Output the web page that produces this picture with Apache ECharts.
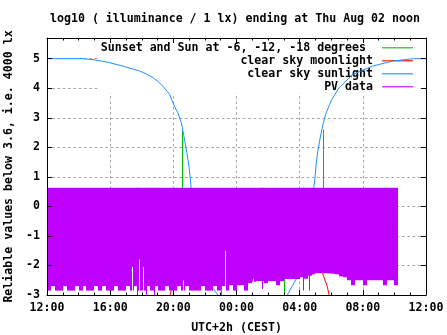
<!DOCTYPE html>
<html><head><meta charset="utf-8">
<script src="https://cdn.jsdelivr.net/npm/echarts@6/dist/echarts.min.js"></script>
<style>html,body{margin:0;padding:0;background:#fff}#c{width:447px;height:335px}</style>
</head><body><div id="c"></div>
<script>
// ---- data (x in hours after Wed 12:00 CEST) ----
const xTickLabels = ['12:00','16:00','20:00','00:00','04:00','08:00','12:00'];

const sunTime  = [0,2.28,3.0,3.76,4.81,5.87,6.3,6.71,7.05,7.34,7.6,7.77,7.97,8.15,8.29,8.51,8.67,8.86,8.99,9.08,9.15,9.3,9.7,10.1,10.5,10.83,11.3,12.5,14.2,14.8,15.25,15.78,16.2,16.6,16.9,16.97,17.05,17.15,17.3,17.47,17.68,17.9,18.04,18.5,19.37,20.63,21.9,23.2,24];
const sunValue = [5,5,4.96,4.89,4.75,4.58,4.48,4.36,4.22,4.07,3.9,3.79,3.51,3.3,3.17,2.83,2.38,1.81,1.36,0.91,0.5,-0.5,-1.5,-2.3,-2.77,-3.0,-3.6,-5,-4.4,-3.6,-2.97,-2.46,-1.3,-0.1,0.66,0.97,1.47,1.87,2.32,2.77,3.17,3.45,3.62,4.02,4.47,4.75,4.92,5.0,5.0];

const moonTime  = [7.7,7.79,7.88,8.3,9.0,10.0,12.0,14.0,16.0,17.0,17.3,17.45,17.6,17.75,17.85,17.95];
const moonValue = [-3.3,-3.0,-2.83,-2.1,-1.5,-1.0,-0.7,-0.8,-1.3,-1.8,-2.05,-2.26,-2.49,-2.72,-2.97,-3.3];

const sunsetTime  = [8.55,9.3,10.15,11.05,15.02,15.9,16.75,17.49];
const sunsetValue = [2.57,0.3,-1.2,-4,-4,-1.2,0.3,2.6];

const pvStart = 0, pvStep = 0.25, pvTop = 0.63;
const pvLow = [
 -2.85,-2.7,-2.85,-2.85,-2.7,-2.85,-2.85,-2.7,-2.85,-2.7,
 -2.85,-2.85,-2.7,-2.85,-2.7,-2.85,-2.85,-2.7,-2.85,-2.85,
 -2.7,-2.85,-2.7,-2.85,-2.85,-2.7,-2.85,-2.7,-2.85,-2.85,
 -2.7,-2.85,-2.85,-2.7,-2.85,-2.7,-2.85,-2.85,-2.85,-2.7,
 -2.85,-2.85,-2.7,-2.85,
 -2.7,-2.85,-2.67,-2.85,-2.67,-2.67,-2.85,-2.6,
 -2.55,-2.53,-2.53,-2.6,-2.53,-2.53,-2.67,-2.53,
 -2.46,-2.46,-2.46,-2.46,
 -2.4,-2.45,-2.35,-2.3,
 -2.26,-2.26,-2.26,-2.27,
 -2.28,-2.3,-2.37,-2.4,
 -2.5,-2.67,-2.5,-2.5,-2.67,-2.5,-2.5,-2.5,-2.5,-2.67,-2.5,-2.5,-2.67];
const pvDipTime = [5.68,6.27,6.80,13.6,16.2,16.6,20.0,21.4];
const pvDipLow  = [-3.0,-3.0,-3.0,-2.8,-2.85,-2.85,-2.67,-2.67];
const pvGapTime = [5.40,5.85,6.10,8.63,11.29,13.07];
const pvGapTop  = [-2.05,-1.81,-2.05,-2.52,-1.51,-2.46];

// ---- names / colours ----
const N_SUNSET = 'Sunset and Sun at -6, -12, -18 degrees ';
const N_MOON = 'clear sky moonlight';
const N_SUN = 'clear sky sunlight';
const N_PV = 'PV data';
const C_GREEN = '#00c000', C_RED = '#ff0000', C_BLUE = '#1e90ff', C_PV = '#c000ff';

const FONT = {fontFamily: 'DejaVu Sans Mono', fontWeight: 'bold', fontSize: 11.6, color: '#000'};

const pvData = [];
pvLow.forEach((lo, i) => pvData.push([pvStart + i * pvStep, pvStart + (i + 1) * pvStep, pvTop, lo]));
pvDipTime.forEach((t, i) => pvData.push([t, t, pvTop, pvDipLow[i]]));
const gapData = pvGapTime.map((t, i) => [t, t, pvGapTop[i], -2.9]);

function rectRender(fill) {
  return function (params, api) {
    const a = api.coord([api.value(0), api.value(2)]);
    const b = api.coord([api.value(1), api.value(3)]);
    let x0 = Math.round(a[0]), x1 = Math.round(b[0]);
    if (x1 <= x0) x1 = x0 + 1;
    return {type: 'rect', shape: {x: x0, y: a[1], width: x1 - x0, height: b[1] - a[1]},
            style: {fill: fill || api.visual('color')}};
  };
}

const chart = echarts.init(document.getElementById('c'), null, {renderer: 'canvas'});
const xBase = {type: 'value', min: 0, max: 24, interval: 4, gridIndex: 0};
const yBase = {type: 'value', min: -3, max: 5.7, interval: 1, gridIndex: 0};
const gridLine = {show: true, showMinLine: false, showMaxLine: false,
                  lineStyle: {color: '#a0a0a0', width: 1, type: [2.5, 2.8]}};
const border = {show: true, onZero: false, lineStyle: {color: '#000', width: 1}};

chart.setOption({
  animation: false,
  backgroundColor: '#fff',
  title: {text: 'log10 ( illuminance / 1 lx) ending at Thu Aug 02 noon', left: 50, top: 12.7, padding: 0,
          textStyle: Object.assign({}, FONT)},
  grid: {left: 47, right: 21, top: 38, bottom: 40, containLabel: false, outerBoundsMode: 'none'},
  legend: {
    orient: 'vertical', right: 27, top: 40.3, padding: [1, 7, 0, 1.5], z: 1,
    backgroundColor: '#fff', align: 'right', itemWidth: 31, itemHeight: 13, itemGap: 0,
    symbolKeepAspect: true, icon: 'path://M0,0H31V1.1H0Z', selectedMode: false,
    textStyle: Object.assign({}, FONT, {lineHeight: 13, padding: [0, 4, 0, 0]}),
    data: [
      {name: N_SUNSET, itemStyle: {color: C_GREEN}},
      {name: N_MOON, itemStyle: {color: C_RED}},
      {name: N_SUN, itemStyle: {color: C_BLUE}},
      {name: N_PV, itemStyle: {color: C_PV}}
    ]
  },
  xAxis: [
    Object.assign({}, xBase, {position: 'bottom', z: 10,
      name: 'UTC+2h (CEST)', nameLocation: 'middle', nameGap: 27, nameTextStyle: Object.assign({}, FONT),
      axisLine: border,
      axisTick: {show: true, inside: true, length: 5, lineStyle: {color: '#000'}},
      minorTick: {show: true, splitNumber: 4, length: 2.5, lineStyle: {color: '#000'}},
      axisLabel: Object.assign({}, FONT, {margin: 7, formatter: v => xTickLabels[Math.round(v / 4)]}),
      splitLine: {show: false}}),
    Object.assign({}, xBase, {position: 'top', z: 10,
      axisLine: border,
      axisTick: {show: true, inside: true, length: 5, lineStyle: {color: '#000'}},
      minorTick: {show: true, splitNumber: 4, length: 2.5, lineStyle: {color: '#000'}},
      axisLabel: {show: false}, splitLine: {show: false}}),
    Object.assign({}, xBase, {position: 'bottom', z: 0,
      axisLine: {show: false, onZero: false}, axisTick: {show: false}, axisLabel: {show: false}, splitLine: gridLine})
  ],
  yAxis: [
    Object.assign({}, yBase, {position: 'left', z: 10,
      name: 'Reliable values below 3.6, i.e. 4000 lx', nameLocation: 'middle', nameGap: 24,
      nameTextStyle: Object.assign({}, FONT),
      axisLine: border,
      axisTick: {show: true, inside: true, length: 5, lineStyle: {color: '#000'}},
      axisLabel: Object.assign({}, FONT, {margin: 7, showMaxLabel: false,
        formatter: v => (Math.abs(v - Math.round(v)) < 1e-9 ? String(Math.round(v)) : '')}),
      splitLine: {show: false}}),
    Object.assign({}, yBase, {position: 'right', z: 10,
      axisLine: border,
      axisTick: {show: true, inside: true, length: 5, lineStyle: {color: '#000'}},
      axisLabel: {show: false}, splitLine: {show: false}}),
    Object.assign({}, yBase, {position: 'left', z: 0,
      axisLine: {show: false, onZero: false}, axisTick: {show: false}, axisLabel: {show: false}, splitLine: gridLine})
  ],
  series: [
    {name: N_SUNSET, type: 'custom', xAxisIndex: 0, yAxisIndex: 0, z: 2, clip: true,
     itemStyle: {color: C_GREEN},
     data: sunsetTime.map((t, i) => [t, sunsetValue[i]]),
     renderItem: function (params, api) {
       const a = api.coord([api.value(0), 0]);
       const b = api.coord([api.value(0), api.value(1)]);
       const x = Math.round(a[0]) + 0.5;
       return {type: 'line', shape: {x1: x, y1: a[1], x2: x, y2: b[1]}, style: {stroke: C_GREEN, lineWidth: 1}};
     }},
    {name: N_MOON, type: 'line', xAxisIndex: 0, yAxisIndex: 0, z: 2, symbol: 'none', clip: true,
     lineStyle: {color: C_RED, width: 1}, itemStyle: {color: C_RED},
     data: moonTime.map((t, i) => [t, moonValue[i]])},
    {name: N_SUN, type: 'line', xAxisIndex: 0, yAxisIndex: 0, z: 2, symbol: 'none', clip: true,
     lineStyle: {color: C_BLUE, width: 1}, itemStyle: {color: C_BLUE},
     data: sunTime.map((t, i) => [t, sunValue[i]])},
    {name: N_PV, type: 'custom', xAxisIndex: 0, yAxisIndex: 0, z: 3, clip: true,
     itemStyle: {color: C_PV}, data: pvData, renderItem: rectRender(C_PV)},
    {name: 'pv gaps', type: 'custom', xAxisIndex: 0, yAxisIndex: 0, z: 4, clip: true,
     itemStyle: {color: '#fff'}, data: gapData, renderItem: rectRender('#ffffff')}
  ]
});
</script>
</body></html>
